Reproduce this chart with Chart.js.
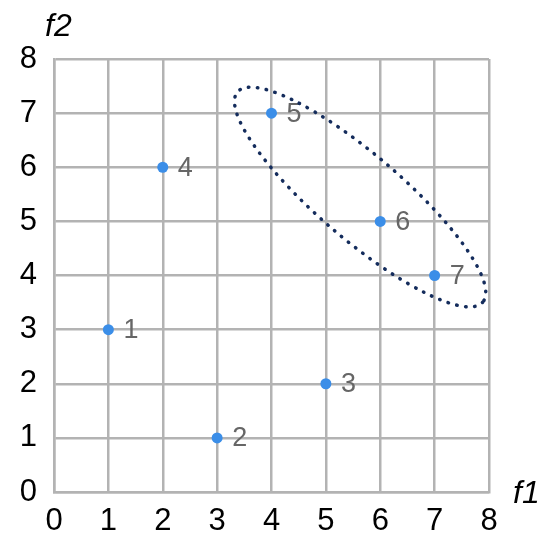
<!DOCTYPE html>
<html>
<head>
<meta charset="utf-8">
<script src="https://cdn.jsdelivr.net/npm/chart.js@4.4.0/dist/chart.umd.min.js"></script>
<style>
  html, body { margin: 0; padding: 0; background: #fff; }
  #wrap { width: 550px; height: 544px; }
</style>
</head>
<body>
<div id="wrap"><canvas id="myChart"></canvas></div>
<script>
// Data
const pointLabels = ['1', '2', '3', '4', '5', '6', '7'];
const f1Values = [1, 3, 5, 2, 4, 6, 7];
const f2Values = [3, 1, 2, 6, 7, 5, 4];
const axisTicks = [0, 1, 2, 3, 4, 5, 6, 7, 8];

// dotted ellipse around the cluster 5,6,7 (in data units)
const clusterCenter = [5.63, 5.45];
const clusterRadii = [2.97, 0.78];
const clusterAngle = -40.6;

const FONT = "'Liberation Sans', Arial, Helvetica, sans-serif";
const GRID = '#b3b3b3';

// draws point numbers, the ellipse and the axis names
const extras = {
    id: 'extras',
    afterDatasetsDraw(chart) {
        const ctx = chart.ctx;
        const xs = chart.scales.x, ys = chart.scales.y;
        const area = chart.chartArea;

        // point labels
        ctx.save();
        ctx.font = '27px ' + FONT;
        ctx.fillStyle = '#666';
        ctx.textAlign = 'left';
        ctx.textBaseline = 'middle';
        chart.getDatasetMeta(0).data.forEach((pt, i) => {
            ctx.fillText(pointLabels[i], pt.x + 15, pt.y + 1);
        });
        ctx.restore();

        // ellipse
        const cx = xs.getPixelForValue(clusterCenter[0]);
        const cy = ys.getPixelForValue(clusterCenter[1]);
        const rx = Math.abs(xs.getPixelForValue(clusterRadii[0]) - xs.getPixelForValue(0));
        const ry = Math.abs(ys.getPixelForValue(clusterRadii[1]) - ys.getPixelForValue(0));
        ctx.save();
        ctx.strokeStyle = '#142c5c';
        ctx.lineWidth = 3.5;
        ctx.lineCap = 'round';
        ctx.setLineDash([0.5, 8.5]);
        ctx.beginPath();
        ctx.ellipse(cx, cy, rx, ry, -clusterAngle * Math.PI / 180, 0, Math.PI * 2);
        ctx.stroke();
        ctx.restore();

        // axis names
        ctx.save();
        ctx.font = 'italic 32px ' + FONT;
        ctx.fillStyle = '#000';
        ctx.textBaseline = 'alphabetic';
        ctx.textAlign = 'left';
        ctx.fillText('f2', area.left - 9, area.top - 23);
        ctx.fillText('f1', area.right + 24, area.bottom + 11);
        ctx.restore();
    }
};

const ctx = document.getElementById('myChart');
const myChart = new Chart(ctx, {
    type: 'scatter',
    data: {
        datasets: [{
            data: f1Values.map((x, i) => ({ x: x, y: f2Values[i] })),
            backgroundColor: '#3b8ee8',
            borderWidth: 0,
            pointRadius: 5.5,
            pointHoverRadius: 5.5
        }]
    },
    options: {
        responsive: true,
        maintainAspectRatio: false,
        animation: false,
        layout: { padding: { top: 59, right: 61, left: 0, bottom: 0 } },
        plugins: {
            legend: { display: false },
            tooltip: { enabled: false }
        },
        scales: {
            x: {
                type: 'linear',
                min: 0,
                max: 8,
                afterBuildTicks: axis => { axis.ticks = axisTicks.map(v => ({ value: v })); },
                afterFit: axis => { axis.height = 52; },
                grid: { color: GRID, lineWidth: 2.5, drawTicks: false },
                border: { color: GRID, width: 2.5 },
                ticks: { color: '#000', padding: 11, font: { family: FONT, size: 31 } }
            },
            y: {
                type: 'linear',
                min: 0,
                max: 8,
                afterBuildTicks: axis => { axis.ticks = axisTicks.map(v => ({ value: v })); },
                afterFit: axis => { axis.width = 54; },
                grid: { color: GRID, lineWidth: 2.5, drawTicks: false },
                border: { color: GRID, width: 2.5 },
                ticks: { color: '#000', padding: 17, font: { family: FONT, size: 31 } }
            }
        }
    },
    plugins: [extras]
});
</script>
</body>
</html>
